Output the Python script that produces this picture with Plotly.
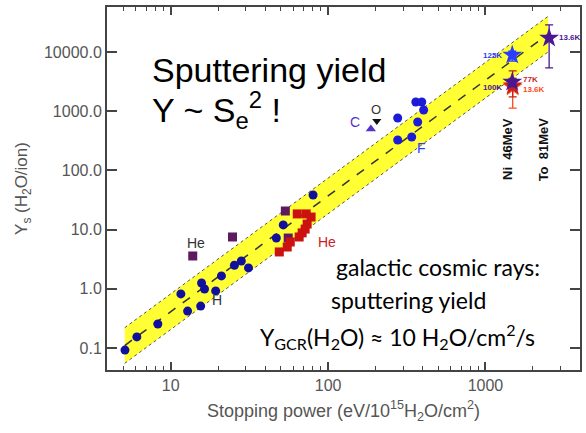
import numpy as np
import plotly.graph_objects as go

# ---------------- data ----------------
band_x = [5.1, 2500]
band_mid = [0.11, 20000]
band_factor = 2.0

blue_lo_x = [5.12, 6.09, 8.28, 11.6, 12.8, 15.5, 15.7, 16.4, 19.3, 21.0, 25.4, 28.1, 31.2, 46.9, 51.9, 80.3]
blue_lo_y = [0.092, 0.154, 0.254, 0.82, 0.42, 0.51, 1.25, 0.99, 0.92, 1.65, 2.5, 2.95, 2.25, 7.2, 12.0, 38.4]
blue_hi_x = [277, 277, 340, 371, 361, 394, 405]
blue_hi_y = [767, 326, 367, 658, 1430, 1430, 1047]

purple_sq_x = [13.8, 24.7, 53.5, 55.8]
purple_sq_y = [3.58, 7.5, 20.6, 7.2]

red_sq_x = [49.0, 55.0, 57.5, 65.5, 68.4, 71.5, 73.6, 78.0, 72.6, 63.7]
red_sq_y = [4.19, 5.08, 6.18, 7.5, 8.8, 10.2, 12.4, 16.3, 18.4, 18.4]

c_x, c_y = [187], [500]
o_x, o_y = [204], [683]

# stars: Ni 46 MeV (x=1480) and To 81 MeV (x=2540)
star_blue = dict(x=[1480], y=[8900], hi=[10300], lo=[7000])
star_purple_ni = dict(x=[1480], y=[3100], hi=[3500], lo=[2600])
star_red = dict(x=[1490], y=[2700], hi=[4800], lo=[1740])
star_orange = dict(x=[1490], y=[2560], hi=[3600], lo=[1130])
star_purple_to = dict(x=[2540], y=[17200], hi=[28600], lo=[5380])

x_ticks = [10, 100, 1000]
x_minor = [5, 6, 7, 8, 9, 20, 30, 40, 50, 60, 70, 80, 90,
           200, 300, 400, 500, 600, 700, 800, 900, 2000, 3000]
y_ticks = [0.1, 1, 10, 100, 1000, 10000]
y_ticklabels = ["0.1", "1.0", "10.0", "100.0", "1000.0", "10000.0"]

# ---------------- figure ----------------
fig = go.Figure()

bx = np.array(band_x, dtype=float)
bm = np.array(band_mid, dtype=float)
up = bm * band_factor
lo = bm / band_factor

fig.add_trace(go.Scatter(
    x=[bx[0], bx[1], bx[1], bx[0], bx[0]],
    y=[up[0], up[1], lo[1], lo[0], up[0]],
    fill="toself", fillcolor="#ffff33", mode="lines",
    line=dict(color="rgba(0,0,0,0)", width=0), hoverinfo="skip", showlegend=False))
fig.add_trace(go.Scatter(x=bx, y=up, mode="lines",
                         line=dict(color="#555", width=1, dash="dot"), showlegend=False))
fig.add_trace(go.Scatter(x=bx, y=lo, mode="lines",
                         line=dict(color="#555", width=1, dash="dot"), showlegend=False))
fig.add_trace(go.Scatter(x=bx, y=bm, mode="lines",
                         line=dict(color="#333", width=1.5, dash="dash"), showlegend=False))

fig.add_trace(go.Scatter(x=blue_lo_x, y=blue_lo_y, mode="markers",
                         marker=dict(color="#10109c", size=9), showlegend=False))
fig.add_trace(go.Scatter(x=blue_hi_x, y=blue_hi_y, mode="markers",
                         marker=dict(color="#1c1cd6", size=9), showlegend=False))
fig.add_trace(go.Scatter(x=purple_sq_x, y=purple_sq_y, mode="markers",
                         marker=dict(color="#5e1a5e", size=9, symbol="square"), showlegend=False))
fig.add_trace(go.Scatter(x=red_sq_x, y=red_sq_y, mode="markers",
                         marker=dict(color="#cc1111", size=9, symbol="square"), showlegend=False))
fig.add_trace(go.Scatter(x=c_x, y=c_y, mode="markers",
                         marker=dict(color="#5533cc", size=9, symbol="triangle-up"), showlegend=False))
fig.add_trace(go.Scatter(x=o_x, y=o_y, mode="markers",
                         marker=dict(color="#111", size=8, symbol="triangle-down"), showlegend=False))


def star(d, color, size=15):
    y = np.array(d["y"], float)
    fig.add_trace(go.Scatter(
        x=d["x"], y=d["y"], mode="markers",
        marker=dict(color=color, size=size, symbol="star"),
        error_y=dict(type="data", symmetric=False,
                     array=list(np.array(d["hi"]) - y),
                     arrayminus=list(y - np.array(d["lo"])),
                     color=color, thickness=1.3, width=4),
        showlegend=False))


star(star_orange, "#ff4a1a")
star(star_red, "#c81e1e")
star(star_purple_ni, "#4a1890")
star(star_blue, "#2a3cff")
star(star_purple_to, "#4a1890")


def lg(v):
    return float(np.log10(v))


ann = []


def dtext(x, y, text, color, size, bold=False, xanchor="center"):
    ann.append(dict(x=lg(x), y=lg(y), xref="x", yref="y", text=("<b>%s</b>" % text) if bold else text,
                    showarrow=False, xanchor=xanchor, yanchor="middle",
                    font=dict(color=color, size=size, family="Liberation Sans")))


dtext(14.4, 5.9, "He", "#333", 14)
dtext(19.8, 0.65, "H", "#333", 14)
dtext(98.6, 6.2, "He", "#cc2222", 14)
dtext(148, 658, "C", "#5533cc", 14)
dtext(201, 1089, "O", "#333", 13)
dtext(394, 239, "F", "#2a3cff", 14)
dtext(1310, 8600, "125K", "#2a3cff", 8, True, "right")
dtext(1310, 2470, "100K", "#4a1890", 8, True, "right")
dtext(1690, 3370, "77K", "#c81e1e", 8, True, "left")
dtext(1690, 2370, "13.6K", "#ff4a1a", 8, True, "left")
dtext(2860, 17900, "13.6K", "#4a1890", 8, True, "left")

for xv, t in [(1390, "Ni  46MeV"), (2370, "To  81MeV")]:
    ann.append(dict(x=lg(xv), y=lg(230), xref="x", yref="y", text="<b>%s</b>" % t,
                    textangle=-90, showarrow=False,
                    font=dict(color="#111", size=13, family="Liberation Sans")))

W, H = 475.0, 363.0
L, T = 107.0, 7.0


def ptext(px, py, text, size, family, color="#000"):
    ann.append(dict(x=(px - L) / W, y=(370 - py) / H, xref="paper", yref="paper",
                    text=text, showarrow=False, xanchor="left", yanchor="middle",
                    font=dict(size=size, family=family, color=color)))


ptext(150, 70, "Sputtering yield", 34, "Liberation Sans")
ptext(150, 110, "Y ~ S<sub>e</sub><sup>2</sup> !", 34, "Liberation Sans")
ptext(335, 267, "galactic cosmic rays:", 23, "Lato")
ptext(330, 300, "sputtering yield", 23, "Lato")
ptext(259, 336, "Y<sub>GCR</sub>(H<sub>2</sub>O) ≈ 10 H<sub>2</sub>O/cm<sup>2</sup>/s", 23, "Lato")

axis_font = dict(family="Liberation Sans", size=16, color="#555")

fig.update_layout(
    width=586, height=433,
    margin=dict(l=107, r=4, t=7, b=63),
    paper_bgcolor="white", plot_bgcolor="white",
    annotations=ann,
    xaxis=dict(type="log", range=[0.595, 3.601], showgrid=False, zeroline=False,
               showline=True, linecolor="#444", linewidth=2, mirror="ticks",
               ticks="inside", ticklen=8, tickwidth=1.5, tickcolor="#444",
               tickvals=x_ticks, ticktext=[str(v) for v in x_ticks],
               tickfont=axis_font,
               minor=dict(tickvals=x_minor, ticks="inside", ticklen=4, tickwidth=1.2, tickcolor="#444"),
               title=dict(text="Stopping power (eV/10<sup>15</sup>H<sub>2</sub>O/cm<sup>2</sup>)",
                          font=dict(family="Liberation Sans", size=18, color="#555"), standoff=11)),
    yaxis=dict(type="log", range=[-1.372, 4.760], showgrid=False, zeroline=False,
               showline=True, linecolor="#444", linewidth=2, mirror="ticks",
               ticks="inside", ticklen=10, tickwidth=1.5, tickcolor="#444",
               tickvals=y_ticks, ticktext=y_ticklabels, tickfont=axis_font,
               title=dict(text="Y<sub>s</sub> (H<sub>2</sub>O/ion)",
                          font=dict(family="Liberation Sans", size=17, color="#555"), standoff=12)),
)

fig.write_html("out.html")
